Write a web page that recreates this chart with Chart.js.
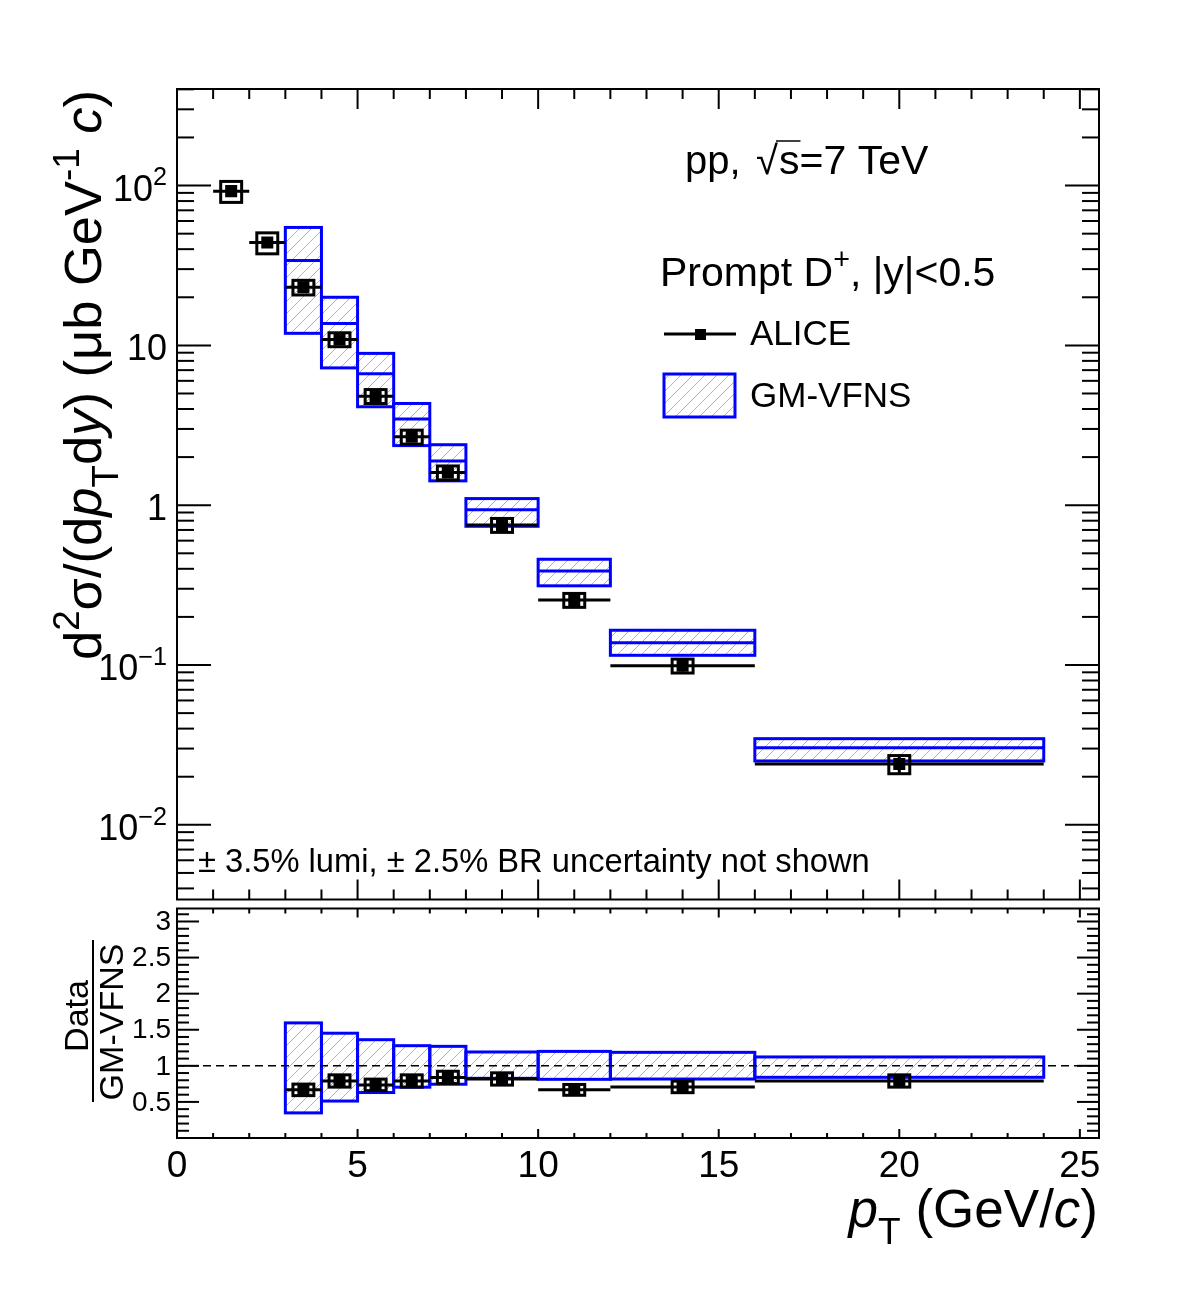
<!DOCTYPE html>
<html>
<head>
<meta charset="utf-8">
<script src="https://cdn.jsdelivr.net/npm/chart.js@4.4.0/dist/chart.umd.min.js"></script>
<style>
  html, body { margin: 0; padding: 0; background: #fff; }
  #wrap { position: relative; width: 1182px; height: 1294px; }
  canvas { position: absolute; left: 0; }
  #top { top: 0; }
  #bot { top: 900px; }
</style>
</head>
<body>
<div id="wrap">
  <canvas id="top" width="1182" height="908"></canvas>
  <canvas id="bot" width="1182" height="394"></canvas>
</div>
<script>
// ALICE prompt D+ bins (pT, GeV/c)
const binLow  = [1, 2, 3, 4, 5, 6, 7, 8, 10, 12, 16]
const binHigh = [2, 3, 4, 5, 6, 7, 8, 10, 12, 16, 24]
// cross section, ub GeV^-1 c
const aliceVal  = [92.3, 44.0, 23.1, 10.9, 4.81, 2.68, 1.60, 0.751, 0.255, 0.099, 0.0240]
const aliceStat = [0.05, 0.04, 0.04, 0.04, 0.04, 0.04, 0.05, 0.05, 0.06, 0.08, 0.12]  // relative
const aliceSys  = [0.15, 0.15, 0.105, 0.10, 0.10, 0.10, 0.10, 0.10, 0.10, 0.10, 0.13] // relative

// GM-VFNS prediction
const gmLow     = [3, 4, 5, 6, 7, 8, 10, 12, 16]
const gmHigh    = [4, 5, 6, 7, 8, 10, 12, 16, 24]
const gmCentral = [34.0, 13.7, 6.64, 3.46, 1.89, 0.936, 0.387, 0.138, 0.0304]
const gmMax     = [54.7, 20.0, 8.91, 4.33, 2.39, 1.10, 0.459, 0.165, 0.0346]
const gmMin     = [11.9, 7.23, 4.13, 2.36, 1.42, 0.738, 0.313, 0.115, 0.0251]

// Data / GM-VFNS
const ratioVal     = [0.667, 0.79, 0.736, 0.79, 0.84, 0.818, 0.667, 0.708, 0.79]
const ratioSys     = [0.08, 0.085, 0.08, 0.085, 0.085, 0.085, 0.075, 0.08, 0.085]
const ratioBandMax = [1.595, 1.452, 1.362, 1.279, 1.27, 1.192, 1.20, 1.187, 1.123]
const ratioBandMin = [0.348, 0.512, 0.63, 0.704, 0.745, 0.827, 0.813, 0.817, 0.841]

// tick labels
const xTickValues = [0, 5, 10, 15, 20, 25]
const xTickLabels = ['0', '5', '10', '15', '20', '25']
const yTickValues = [0.01, 0.1, 1, 10, 100]
const yTickBase   = ['10', '10', '1', '10', '10']
const yTickExp    = ['\u22122', '\u22121', '', '', '2']
const rTickValues = [0.5, 1, 1.5, 2, 2.5, 3]
const rTickLabels = ['0.5', '1', '1.5', '2', '2.5', '3']

const SANS = '"Liberation Sans", Arial, Helvetica, sans-serif'
const BLUE = '#0000ff'

function font(size, italic) {
  return (italic ? 'italic ' : '') + size + 'px ' + SANS
}

function line(ctx, x0, y0, x1, y1) {
  ctx.beginPath()
  ctx.moveTo(x0, y0)
  ctx.lineTo(x1, y1)
  ctx.stroke()
}

// text pieces with sup / sub / italic
function richWidth(ctx, parts, size) {
  let w = 0
  for (const p of parts) {
    ctx.font = font((p.sup || p.sub) ? size * 0.7 : size, p.it)
    w += ctx.measureText(p.t).width
  }
  return w
}
function drawRich(ctx, parts, x, y, size, align) {
  const w = richWidth(ctx, parts, size)
  let cx = align === 'right' ? x - w : align === 'center' ? x - w / 2 : x
  ctx.textAlign = 'left'
  ctx.textBaseline = 'alphabetic'
  ctx.fillStyle = '#000'
  for (const p of parts) {
    const s = (p.sup || p.sub) ? size * 0.7 : size
    ctx.font = font(s, p.it)
    const dy = p.sup ? -size * 0.42 : p.sub ? size * 0.32 : 0
    ctx.fillText(p.t, cx, y + dy)
    cx += ctx.measureText(p.t).width
  }
}

let hatch = null
function getHatch(ctx) {
  if (hatch) return hatch
  const c = document.createElement('canvas')
  c.width = 12; c.height = 12
  const g = c.getContext('2d')
  g.strokeStyle = 'rgb(170,170,250)'
  g.lineWidth = 1
  g.beginPath()
  g.moveTo(0, 12); g.lineTo(12, 0)
  g.moveTo(-2, 2); g.lineTo(2, -2)
  g.moveTo(10, 14); g.lineTo(14, 10)
  g.stroke()
  hatch = ctx.createPattern(c, 'repeat')
  return hatch
}

function drawBand(ctx, x, y, lo, hi, top, bot, mid) {
  const x0 = x.getPixelForValue(lo), x1 = x.getPixelForValue(hi)
  const yt = y.getPixelForValue(top), yb = y.getPixelForValue(bot)
  ctx.fillStyle = getHatch(ctx)
  ctx.fillRect(x0, yt, x1 - x0, yb - yt)
  ctx.strokeStyle = BLUE
  ctx.lineWidth = 3
  ctx.strokeRect(x0, yt, x1 - x0, yb - yt)
  if (mid !== undefined) {
    const ym = y.getPixelForValue(mid)
    line(ctx, x0, ym, x1, ym)
  }
}

function drawPointErrors(ctx, x, y, lo, hi, v, statLo, statHi, sysLo, sysHi) {
  const c = (lo + hi) / 2
  const py = y.getPixelForValue(v)
  ctx.strokeStyle = '#000'
  ctx.lineWidth = 3
  line(ctx, x.getPixelForValue(lo), py, x.getPixelForValue(hi), py)
  const px = x.getPixelForValue(c)
  line(ctx, px, y.getPixelForValue(statLo), px, y.getPixelForValue(statHi))
  const bx0 = x.getPixelForValue(c - 0.29), bx1 = x.getPixelForValue(c + 0.29)
  const by0 = y.getPixelForValue(sysHi), by1 = y.getPixelForValue(sysLo)
  ctx.strokeRect(bx0, by0, bx1 - bx0, by1 - by0)
}

function drawXTicks(ctx, x, a, major, minor) {
  ctx.strokeStyle = '#000'
  ctx.lineWidth = 2
  for (let v = 0; v <= 25; v++) {
    const px = x.getPixelForValue(v)
    const len = v % 5 === 0 ? major : minor
    line(ctx, px, a.bottom, px, a.bottom - len)
    line(ctx, px, a.top, px, a.top + len)
  }
}

function drawFrame(ctx, a) {
  ctx.strokeStyle = '#000'
  ctx.lineWidth = 2
  ctx.strokeRect(a.left, a.top, a.width, a.height)
}

const topPanel = {
  id: 'topPanel',
  beforeDatasetsDraw(chart) {
    const { ctx, chartArea: a, scales: { x, y } } = chart
    ctx.save()
    ctx.beginPath(); ctx.rect(a.left, a.top, a.width, a.height); ctx.clip()
    gmLow.forEach((lo, i) => drawBand(ctx, x, y, lo, gmHigh[i], gmMax[i], gmMin[i], gmCentral[i]))
    binLow.forEach((lo, i) => {
      const v = aliceVal[i]
      drawPointErrors(ctx, x, y, lo, binHigh[i], v,
        v * (1 - aliceStat[i]), v * (1 + aliceStat[i]),
        v * (1 - aliceSys[i]), v * (1 + aliceSys[i]))
    })
    ctx.restore()
  },
  afterDraw(chart) {
    const { ctx, chartArea: a, scales: { x, y } } = chart
    ctx.save()
    drawFrame(ctx, a)
    drawXTicks(ctx, x, a, 20, 10)
    // log ticks
    for (let d = -3; d <= 2; d++) {
      for (let m = 1; m <= 9; m++) {
        const v = m * Math.pow(10, d)
        if (v < y.min || v > y.max) continue
        const py = y.getPixelForValue(v)
        const len = m === 1 ? 34 : 17
        line(ctx, a.left, py, a.left + len, py)
        line(ctx, a.right, py, a.right - len, py)
      }
    }
    yTickValues.forEach((v, i) => {
      const parts = [{ t: yTickBase[i] }]
      if (yTickExp[i]) parts.push({ t: yTickExp[i], sup: true })
      drawRich(ctx, parts, 167, y.getPixelForValue(v) + 15, 36, 'right')
    })

    // y title
    ctx.save()
    ctx.translate(101, 375)
    ctx.rotate(-Math.PI / 2)
    drawRich(ctx, [
      { t: 'd' }, { t: '2', sup: true }, { t: '\u03c3/(d' }, { t: 'p', it: true }, { t: 'T', sub: true },
      { t: 'd' }, { t: 'y', it: true }, { t: ') (\u03bcb GeV' }, { t: '-1', sup: true }, { t: ' ' },
      { t: 'c', it: true }, { t: ')' }
    ], 0, 0, 52.5, 'center')
    ctx.restore()

    // energy label
    ctx.fillStyle = '#000'
    ctx.font = font(40)
    ctx.textAlign = 'left'
    ctx.textBaseline = 'alphabetic'
    ctx.fillText('pp,', 685, 174)
    ctx.fillText('\u221a', 756, 174)
    ctx.font = font(41)
    ctx.fillText('s=7 TeV', 779, 174)
    const sw = ctx.measureText('s').width
    ctx.strokeStyle = '#000'
    ctx.lineWidth = 1.5
    line(ctx, 776, 141, 779 + sw + 1, 141)

    drawRich(ctx, [{ t: 'Prompt D' }, { t: '+', sup: true }, { t: ', |y|<0.5' }], 660, 286, 41, 'left')

    // legend
    ctx.strokeStyle = '#000'
    ctx.lineWidth = 3
    line(ctx, 664, 334, 736, 334)
    ctx.fillStyle = '#000'
    ctx.fillRect(695, 329, 11, 11)
    ctx.fillStyle = getHatch(ctx)
    ctx.fillRect(664, 374, 71, 43)
    ctx.strokeStyle = BLUE
    ctx.strokeRect(664, 374, 71, 43)
    ctx.fillStyle = '#000'
    ctx.font = font(35)
    ctx.textAlign = 'left'
    ctx.textBaseline = 'middle'
    ctx.fillText('ALICE', 750, 335)
    ctx.fillText('GM-VFNS', 750, 397)

    ctx.textBaseline = 'alphabetic'
    ctx.font = font(32.7)
    ctx.fillText('\u00b1 3.5% lumi, \u00b1 2.5% BR uncertainty not shown', 198, 872)
    ctx.restore()
  }
}

const botPanel = {
  id: 'botPanel',
  beforeDatasetsDraw(chart) {
    const { ctx, chartArea: a, scales: { x, y } } = chart
    ctx.save()
    ctx.beginPath(); ctx.rect(a.left, a.top, a.width, a.height); ctx.clip()
    gmLow.forEach((lo, i) => drawBand(ctx, x, y, lo, gmHigh[i], ratioBandMax[i], ratioBandMin[i]))
    // unity line
    ctx.strokeStyle = '#000'
    ctx.lineWidth = 1.5
    ctx.setLineDash([8, 5])
    const y1 = y.getPixelForValue(1)
    line(ctx, a.left, y1, a.right, y1)
    ctx.setLineDash([])
    gmLow.forEach((lo, i) => {
      const v = ratioVal[i]
      const st = aliceStat[i + 2]
      drawPointErrors(ctx, x, y, lo, gmHigh[i], v, v * (1 - st), v * (1 + st),
        v - ratioSys[i], v + ratioSys[i])
    })
    ctx.restore()
  },
  afterDraw(chart) {
    const { ctx, chartArea: a, scales: { x, y } } = chart
    ctx.save()
    drawFrame(ctx, a)
    drawXTicks(ctx, x, a, 9, 5)
    for (let k = 0; k <= 31; k++) {
      const v = k / 10
      if (v > y.max) continue
      const py = y.getPixelForValue(v)
      const len = k % 5 === 0 ? 22 : 12
      line(ctx, a.left, py, a.left + len, py)
      line(ctx, a.right, py, a.right - len, py)
    }
    ctx.fillStyle = '#000'
    ctx.font = font(28)
    ctx.textAlign = 'right'
    ctx.textBaseline = 'middle'
    rTickValues.forEach((v, i) => ctx.fillText(rTickLabels[i], 171, y.getPixelForValue(v) + 1))

    ctx.font = font(37)
    ctx.textAlign = 'center'
    ctx.textBaseline = 'alphabetic'
    xTickValues.forEach((v, i) => ctx.fillText(xTickLabels[i], x.getPixelForValue(v), 277))

    // x title
    drawRich(ctx, [{ t: 'p', it: true }, { t: 'T', sub: true }, { t: ' (GeV/' }, { t: 'c', it: true }, { t: ')' }],
      1098, 327, 53, 'right')

    // ratio title
    ctx.save()
    ctx.translate(88, 116)
    ctx.rotate(-Math.PI / 2)
    drawRich(ctx, [{ t: 'Data' }], 0, 0, 34, 'center')
    ctx.restore()
    ctx.save()
    ctx.translate(123, 122)
    ctx.rotate(-Math.PI / 2)
    drawRich(ctx, [{ t: 'GM-VFNS' }], 0, 0, 34, 'center')
    ctx.restore()
    ctx.strokeStyle = '#000'
    ctx.lineWidth = 2
    line(ctx, 93, 40, 93, 202)
    ctx.restore()
  }
}

const baseOptions = (pad, yScale) => ({
  responsive: false,
  animation: false,
  devicePixelRatio: 1,
  events: [],
  layout: { padding: pad },
  scales: {
    x: { type: 'linear', display: false, min: 0, max: 25.53 },
    y: yScale
  },
  plugins: { legend: { display: false }, tooltip: { enabled: false } }
})

new Chart(document.getElementById('top'), {
  type: 'scatter',
  data: {
    datasets: [{
      label: 'ALICE',
      data: binLow.map((lo, i) => ({ x: (lo + binHigh[i]) / 2, y: aliceVal[i] })),
      pointStyle: 'rect',
      pointRadius: 8.5,
      backgroundColor: '#000',
      borderColor: '#000',
      borderWidth: 0
    }]
  },
  options: baseOptions({ left: 177, right: 83, top: 89, bottom: 2 },
    { type: 'logarithmic', display: false, min: 0.00341, max: 402 }),
  plugins: [topPanel]
})

new Chart(document.getElementById('bot'), {
  type: 'scatter',
  data: {
    datasets: [{
      label: 'Data/GM-VFNS',
      data: gmLow.map((lo, i) => ({ x: (lo + gmHigh[i]) / 2, y: ratioVal[i] })),
      pointStyle: 'rect',
      pointRadius: 8.5,
      backgroundColor: '#000',
      borderColor: '#000',
      borderWidth: 0
    }]
  },
  options: baseOptions({ left: 177, right: 83, top: 6, bottom: 156 },
    { type: 'linear', display: false, min: 0, max: 3.18 }),
  plugins: [botPanel]
})
</script>
</body>
</html>
